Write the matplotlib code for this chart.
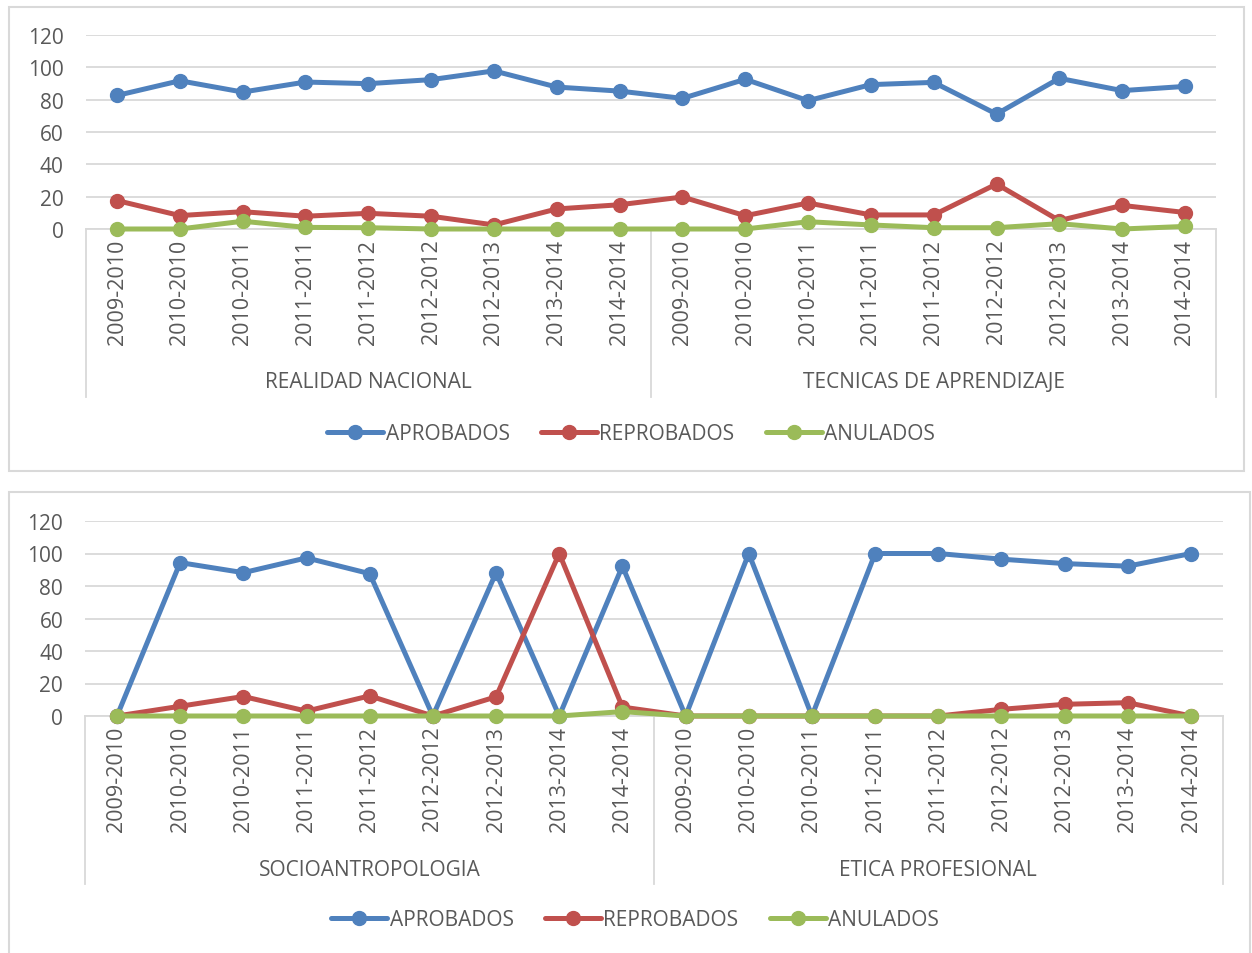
import matplotlib
matplotlib.use("Agg")
import matplotlib.pyplot as plt
import matplotlib.transforms as mtransforms
from matplotlib.patches import Rectangle


periods = ["2009-2010", "2010-2010", "2010-2011", "2011-2011", "2011-2012",
           "2012-2012", "2012-2013", "2013-2014", "2014-2014"]

top_groups = ["REALIDAD NACIONAL", "TECNICAS DE APRENDIZAJE"]
top_aprobados = [82.6, 91.7, 84.7, 90.9, 89.9, 92.4, 97.8, 87.8, 85.3,
                 80.8, 92.6, 79.4, 89.3, 90.7, 71.1, 93.2, 85.6, 88.2]
top_reprobados = [17.6, 8.3, 10.7, 7.9, 9.7, 7.9, 2.5, 12.4, 15.0,
                  19.8, 8.2, 16.1, 8.7, 8.7, 27.8, 5.2, 14.6, 10.2]
top_anulados = [0, 0, 4.8, 1.0, 0.8, 0, 0, 0, 0,
                0, 0, 4.5, 2.5, 0.8, 0.8, 3.3, 0, 1.6]

bottom_groups = ["SOCIOANTROPOLOGIA", "ETICA PROFESIONAL"]
bottom_aprobados = [0, 94.4, 88.2, 97.3, 87.6, 0, 88.2, 0, 92.2,
                    0, 100, 0, 100, 100, 96.5, 93.8, 92.2, 100]
bottom_reprobados = [0, 6.0, 12.0, 3.0, 12.4, 0, 11.8, 100, 5.5,
                     0, 0, 0, 0, 0, 4.1, 7.2, 8.2, 0]
bottom_anulados = [0, 0, 0, 0, 0, 0, 0, 0, 2.7,
                   0, 0, 0, 0, 0, 0, 0, 0, 0]

series_names = ["APROBADOS", "REPROBADOS", "ANULADOS"]
colors = ["#4F81BD", "#C0504D", "#9BBB59"]
text_color = "#595959"
grid_color = "#D9D9D9"

plt.rcParams["font.family"] = ["Open Sans", "DejaVu Sans"]

W, H = 1252, 954
fig = plt.figure(figsize=(W / 100, H / 100), dpi=100)


def px_box(left, right, y_zero, y_top):
    return [left / W, 1 - y_zero / H, (right - left) / W, (y_zero - y_top) / H]


def draw_panel(box, groups, data, line_bottom, label_y, legend_xy, frame):
    fig.patches.append(Rectangle((frame[0] / W, 1 - frame[3] / H),
                                 (frame[2] - frame[0]) / W, (frame[3] - frame[1]) / H,
                                 transform=fig.transFigure, fill=False,
                                 edgecolor=grid_color, linewidth=1.5))
    ax = fig.add_axes(box)
    x = list(range(len(periods) * len(groups)))
    handles = []
    for values, name, color in zip(data, series_names, colors):
        h, = ax.plot(x, values, color=color, linewidth=3.6, marker="o",
                     markersize=10, label=name, solid_capstyle="round",
                     clip_on=False, zorder=3)
        handles.append(h)

    ax.set_xlim(-0.5, len(x) - 0.5)
    ax.set_ylim(0, 120)
    ax.set_yticks(range(0, 121, 20))
    ax.grid(axis="y", color=grid_color, linewidth=1.3)
    ax.set_axisbelow(True)
    for side in ["left", "right", "top"]:
        ax.spines[side].set_visible(False)
    ax.spines["bottom"].set_color(grid_color)
    ax.spines["bottom"].set_linewidth(1.3)
    ax.spines["bottom"].set_zorder(1)
    ax.tick_params(axis="y", length=0, pad=16, labelsize=15, labelcolor=text_color)
    ax.set_xticks(x)
    ax.set_xticklabels(periods * len(groups), rotation=90)
    ax.tick_params(axis="x", length=0, pad=7, labelsize=15.5, labelcolor=text_color)

    # category group separators and group names below the axis
    trans = mtransforms.blended_transform_factory(ax.transData, ax.transAxes)
    axes_h = box[3] * H
    y_end = -line_bottom / axes_h
    for b in range(len(groups) + 1):
        xb = b * len(periods) - 0.5
        ax.plot([xb, xb], [0, y_end], color=grid_color, linewidth=1.3,
                transform=trans, clip_on=False, zorder=1)
    for g, name in enumerate(groups):
        ax.text(g * len(periods) + (len(periods) - 1) / 2, -label_y / axes_h, name,
                transform=trans, ha="center", va="center", fontsize=15,
                color=text_color)

    fig.legend(handles=handles, loc="center",
               bbox_to_anchor=(legend_xy[0] / W, 1 - legend_xy[1] / H),
               ncol=3, frameon=False, fontsize=15, labelcolor=text_color,
               handlelength=2.7, handletextpad=0.1, columnspacing=1.5)


draw_panel(px_box(85.6, 1216.4, 230, 36), top_groups,
           [top_aprobados, top_reprobados, top_anulados],
           line_bottom=168, label_y=153, legend_xy=(631, 435),
           frame=(9, 8, 1244, 472))

draw_panel(px_box(85.4, 1222.6, 717, 522), bottom_groups,
           [bottom_aprobados, bottom_reprobados, bottom_anulados],
           line_bottom=168, label_y=153, legend_xy=(635, 921),
           frame=(9, 493, 1250, 960))

fig.savefig("out.png", dpi=100)
